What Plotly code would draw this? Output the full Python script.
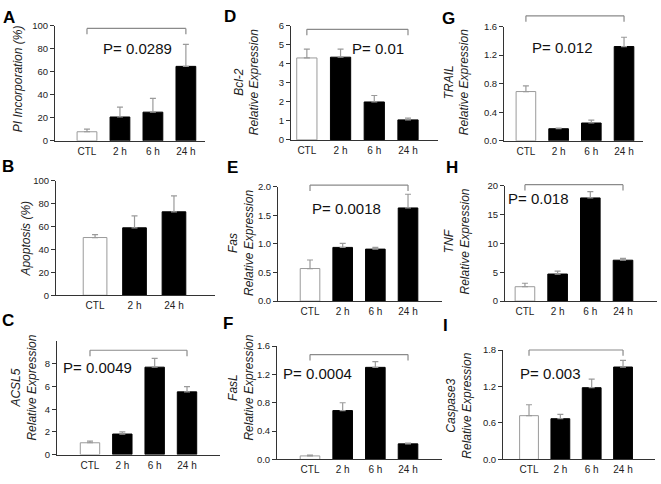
import plotly.graph_objects as go

# ---------------- data ----------------
categories = ["CTL", "2 h", "6 h", "24 h"]
categories_b = ["CTL", "2 h", "24 h"]

pi_mean = [7.9, 20.7, 24.9, 64.6]
pi_err = [2.3, 8.5, 11.9, 19.0]
apo_mean = [50.5, 59.0, 73.0]
apo_err = [2.5, 10.5, 14.0]
acsl5_mean = [1.04, 1.81, 7.71, 5.53]
acsl5_err = [0.14, 0.19, 0.78, 0.46]
bcl2_mean = [4.30, 4.34, 1.99, 1.05]
bcl2_err = [0.46, 0.42, 0.34, 0.09]
fas_mean = [0.57, 0.94, 0.91, 1.63]
fas_err = [0.15, 0.07, 0.03, 0.24]
fasl_mean = [0.05, 0.69, 1.30, 0.22]
fasl_err = [0.01, 0.11, 0.08, 0.01]
trail_mean = [0.69, 0.17, 0.25, 1.32]
trail_err = [0.08, 0.01, 0.04, 0.13]
tnf_mean = [2.5, 4.7, 17.9, 7.1]
tnf_err = [0.6, 0.5, 1.1, 0.3]
casp3_mean = [0.72, 0.67, 1.18, 1.52]
casp3_err = [0.18, 0.07, 0.14, 0.11]

pct_ticks = ["0", "20", "40", "60", "80", "100"]
acsl5_ticks = ["0", "2", "4", "6", "8"]
bcl2_ticks = ["0", "1", "2", "3", "4", "5", "6"]
fas_ticks = ["0.0", "0.5", "1.0", "1.5", "2.0"]
fasl_ticks = ["0.0", "0.4", "0.8", "1.2", "1.6"]
trail_ticks = ["0.0", "0.4", "0.8", "1.2", "1.6"]
tnf_ticks = ["0", "5", "10", "15", "20"]
casp3_ticks = ["0.0", "0.6", "1.2", "1.8"]

p_texts = {"A": "P= 0.0289", "C": "P= 0.0049", "D": "P= 0.01", "E": "P= 0.0018",
           "F": "P= 0.0004", "G": "P= 0.012", "H": "P= 0.018", "I": "P= 0.003"}

# ---------------- panel setup ----------------
W, H = 661, 484
FONT = "Liberation Sans, Arial, sans-serif"

panels = [
    dict(letter="A", cats=categories, mean=pi_mean, err=pi_err, ticks=pct_ticks, yr=(0, 100),
         title="<i>PI Incorporation (%)</i>",
         box=(55, 205, 20, 138), xr=(-0.97, 3.58), lpos=(8.5, 12), tpos=(18, 75),
         ppos=(1.52, 80.5), bracket=97.5),
    dict(letter="B", cats=categories_b, mean=apo_mean, err=apo_err, ticks=pct_ticks, yr=(0, 100),
         title="<i>Apoptosis (%)</i>",
         box=(56, 215, 179, 296), xr=(-0.99, 3.04), lpos=(8, 164), tpos=(26, 238),
         ppos=None, bracket=None),
    dict(letter="C", cats=categories, mean=acsl5_mean, err=acsl5_err, ticks=acsl5_ticks, yr=(0, 10),
         title="<i>ACSL5</i><br><i>Relative Expression</i>",
         box=(57, 220, 343, 459), xr=(-1.02, 4.02), lpos=(8, 322), tpos=(24.5, 391),
         ppos=(0.22, 7.65), bracket=9.2),
    dict(letter="D", cats=categories, mean=bcl2_mean, err=bcl2_err, ticks=bcl2_ticks, yr=(0, 6),
         title="<i>Bcl-2</i><br><i>Relative Expression</i>",
         box=(291, 438, 20, 137), xr=(-0.47, 3.89), lpos=(230, 11), tpos=(247, 78),
         ppos=(2.1, 4.8), bracket=5.8),
    dict(letter="E", cats=categories, mean=fas_mean, err=fas_err, ticks=fas_ticks, yr=(0, 2),
         title="<i>Fas</i><br><i>Relative Expression</i>",
         box=(278, 442, 185, 302), xr=(-0.98, 4.04), lpos=(232, 165), tpos=(241.5, 243),
         ppos=(1.13, 1.62), bracket=2.03),
    dict(letter="F", cats=categories, mean=fasl_mean, err=fasl_err, ticks=fasl_ticks, yr=(0, 1.6),
         title="<i>FasL</i><br><i>Relative Expression</i>",
         box=(277, 442, 348, 464), xr=(-1.01, 4.04), lpos=(228, 325), tpos=(241.5, 391),
         ppos=(0.24, 1.21), bracket=1.48),
    dict(letter="G", cats=categories, mean=trail_mean, err=trail_err, ticks=trail_ticks, yr=(0, 1.6),
         title="<i>TRAIL</i><br><i>Relative Expression</i>",
         box=(504, 643, 21, 138), xr=(-0.67, 3.58), lpos=(448, 12.5), tpos=(457, 78),
         ppos=(1.1, 1.30), bracket=1.75),
    dict(letter="H", cats=categories, mean=tnf_mean, err=tnf_err, ticks=tnf_ticks, yr=(0, 20),
         title="<i>TNF</i><br><i>Relative Expression</i>",
         box=(505, 657, 184, 302), xr=(-0.61, 4.04), lpos=(452, 165), tpos=(457, 241),
         ppos=(0.4, 17.8), bracket=20.2),
    dict(letter="I", cats=categories, mean=casp3_mean, err=casp3_err, ticks=casp3_ticks, yr=(0, 1.8),
         title="<i>Caspase3</i><br><i>Relative Expression</i>",
         box=(503, 655, 352, 464), xr=(-0.83, 4.02), lpos=(445, 327), tpos=(459, 409),
         ppos=(0.67, 1.41), bracket=1.8),
]

fig = go.Figure()
layout = dict(width=W, height=H, margin=dict(l=0, r=0, t=0, b=0),
              paper_bgcolor="white", plot_bgcolor="white", showlegend=False,
              font=dict(family=FONT, color="#222"), bargap=0.4)
shapes = []
annotations = []

AX = "#333"
for k, p in enumerate(panels, start=1):
    suf = "" if k == 1 else str(k)
    xa, ya = "x" + suf, "y" + suf
    L, R, T, B = p["box"]
    n = len(p["cats"])
    colors = ["white"] + ["black"] * (n - 1)
    lcolors = ["#9a9a9a"] + ["black"] * (n - 1)
    fig.add_trace(go.Bar(
        x=p["cats"], y=p["mean"], width=0.6,
        marker=dict(color=colors, line=dict(color=lcolors, width=1)),
        error_y=dict(type="data", array=p["err"], arrayminus=[0] * n, symmetric=False,
                     color="#9a9a9a", thickness=1.2, width=3),
        xaxis=xa, yaxis=ya, hoverinfo="skip"))

    tickvals = [float(t) for t in p["ticks"]]
    layout["xaxis" + suf] = dict(
        domain=[L / W, R / W], anchor=ya, type="category",
        categoryorder="array", categoryarray=p["cats"],
        range=list(p["xr"]), showline=True, linecolor=AX, linewidth=1,
        ticks="", showgrid=False, zeroline=False, ticklabelstandoff=1,
        tickfont=dict(size=10, color="#222", family=FONT))
    layout["yaxis" + suf] = dict(
        domain=[1 - B / H, 1 - T / H], anchor=xa, range=list(p["yr"]),
        showline=True, linecolor=AX, linewidth=1, ticks="outside", ticklen=4,
        tickcolor=AX, tickwidth=1, tickvals=tickvals, ticktext=p["ticks"],
        showgrid=False, zeroline=False,
        tickfont=dict(size=9.5, color="#222", family=FONT))

    # panel letter
    annotations.append(dict(text="<b>%s</b>" % p["letter"], xref="paper", yref="paper",
                            x=p["lpos"][0] / W, y=1 - p["lpos"][1] / H,
                            xanchor="center", yanchor="middle", showarrow=False,
                            font=dict(size=17, color="black", family=FONT)))
    # y title
    annotations.append(dict(text=p["title"], xref="paper", yref="paper",
                            x=p["tpos"][0] / W, y=1 - p["tpos"][1] / H, textangle=-90,
                            xanchor="center", yanchor="middle", showarrow=False,
                            align="center",
                            font=dict(size=12, color="#222", family=FONT)))
    # p value and bracket
    if p["ppos"] is not None:
        annotations.append(dict(text=p_texts[p["letter"]], xref=xa, yref=ya,
                                x=p["ppos"][0], y=p["ppos"][1], xanchor="center",
                                yanchor="middle", showarrow=False,
                                font=dict(size=15, color="#111", family=FONT)))
    if p["bracket"] is not None:
        x0r, x1r = p["xr"]
        y0r, y1r = p["yr"]
        fx0 = (0 - x0r) / (x1r - x0r)
        fx1 = (n - 1 - x0r) / (x1r - x0r)
        fy = (p["bracket"] - y0r) / (y1r - y0r)
        d = 6 / (B - T)
        ln = dict(color="#8a8a8a", width=1.2)
        for (a, b, c, e) in [(fx0, fy, fx1, fy), (fx0, fy, fx0, fy - d), (fx1, fy, fx1, fy - d)]:
            shapes.append(dict(type="line", xref=xa + " domain", yref=ya + " domain",
                               x0=a, y0=b, x1=c, y1=e, line=ln))

layout["shapes"] = shapes
layout["annotations"] = annotations
fig.update_layout(**layout)
fig.write_html("out.html", config={"displayModeBar": False},
               post_script="document.body.style.margin='0';document.body.style.overflow='hidden';")
